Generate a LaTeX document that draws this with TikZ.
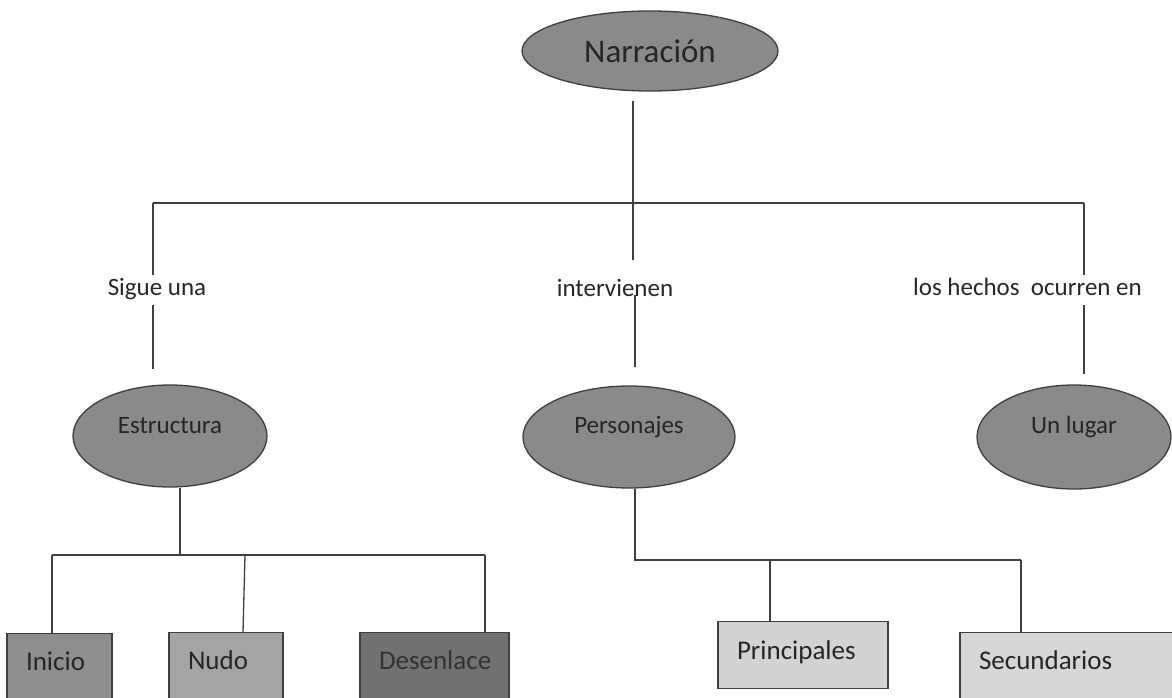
\documentclass[tikz,border=0pt]{standalone}
\usepackage{fontspec}
\setmainfont{Carlito}
\usetikzlibrary{shapes.geometric}
\definecolor{linec}{HTML}{3F3F3F}
\definecolor{txt}{HTML}{262626}
\definecolor{ellfill}{HTML}{8A8A8A}
\definecolor{iniciofill}{HTML}{8E8E8E}
\definecolor{nudofill}{HTML}{A4A4A4}
\definecolor{desenfill}{HTML}{717171}
\definecolor{princfill}{HTML}{D3D3D3}
\definecolor{secufill}{HTML}{D6D6D6}
\tikzset{
  ellnode/.style={ellipse, draw=linec, line width=1.3pt, fill=ellfill, inner sep=0pt,
    text=txt, font=\fontsize{25}{30}\selectfont},
  boxnode/.style={draw=linec, line width=1.3pt, anchor=north, inner ysep=0pt, inner xsep=19pt,
    align=left, text height=37pt, text depth=80pt, text=txt, font=\fontsize{27}{32}\selectfont},
  lbl/.style={inner xsep=2pt, inner ysep=4pt, text height=16pt, text depth=6pt, text=txt,
    font=\fontsize{25}{30}\selectfont},
  conn/.style={draw=linec, line width=1.3pt}
}
\begin{document}
\begin{tikzpicture}[x=1pt,y=-1pt]
\useasboundingbox (0,0) rectangle (1172,698);
\clip (0,0) rectangle (1172,698);

% ellipses
\node[ellnode, minimum width=256pt, minimum height=80pt, font=\fontsize{33}{40}\selectfont] (narr) at (650,51) {Narración\hspace{16pt}};
\node[ellnode, minimum width=194pt, minimum height=102pt, text height=12pt, text depth=18pt] (estr) at (170,436) {Estructura};
\node[ellnode, minimum width=212pt, minimum height=102pt, text height=12pt, text depth=20pt] (pers) at (629,437) {Personajes};
\node[ellnode, minimum width=194pt, minimum height=104pt, text height=12pt, text depth=20pt] (lugar) at (1074,437) {Un lugar\hspace{16pt}};

% labels
\node[lbl, anchor=base] (sigue) at (157,295) {Sigue una};
\node[lbl, anchor=base] (interv) at (615,296) {intervienen};
\node[lbl, anchor=base east] (hechos) at (1144,295) {los hechos\ \ ocurren en};

% boxes
\node[boxnode, fill=iniciofill, text width=67pt] (inicio) at (59.5,633) {Inicio};
\node[boxnode, fill=nudofill, text width=76pt] (nudo) at (226,632) {Nudo};
\node[boxnode, fill=desenfill, text width=111pt, text=black!80] (desen) at (434.5,632) {Desenlace};
\node[boxnode, fill=princfill, text width=132pt, text height=38pt, text depth=29pt] (princ) at (803,621) {Principales};
\node[boxnode, fill=secufill, text width=192pt] (secu) at (1075,632) {Secundarios};

% junction coordinates
\coordinate (n0) at (633,101);
\coordinate (n1) at (633,260);
\coordinate (jl) at (153,203);
\coordinate (jr) at (1084,203);
\coordinate (m1) at (635,295);
\coordinate (e1) at (180,555);
\coordinate (el) at (52,555);
\coordinate (em) at (245,555);
\coordinate (er) at (485,555);
\coordinate (p1) at (635,560);
\coordinate (pm) at (770,560);
\coordinate (p2) at (1021,560);

% connectors
\draw[conn] (n0) -- (n1);
\draw[conn] (jl) -- (jr);
\draw[conn] (jl) -- (jl |- sigue.north);
\draw[conn, shorten >=15pt] (sigue.south -| jl) -- (estr.north -| jl);
\draw[conn] (jr) -- (jr |- hechos.north);
\draw[conn, shorten >=10pt] (hechos.south -| jr) -- (lugar.north -| jr);
\draw[conn, shorten >=18pt] (m1) -- (pers.north -| m1);

\draw[conn] (estr.south -| e1) -- (e1);
\draw[conn] (el) -- (er);
\draw[conn] (el) -- (inicio.north -| el);
\draw[conn] (em) -- ([xshift=-2pt]nudo.north -| em);
\draw[conn] (er) -- (desen.north -| er);

\draw[conn] (pers.south -| p1) -- (p1) -- (p2);
\draw[conn] (pm) -- (princ.north -| pm);
\draw[conn] (p2) -- (secu.north -| p2);
\end{tikzpicture}
\end{document}
